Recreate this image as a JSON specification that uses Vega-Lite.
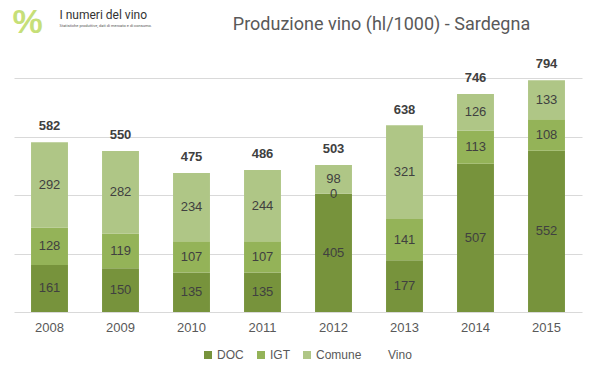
{
  "$schema": "https://vega.github.io/schema/vega-lite/v6.json",
  "width": 568,
  "height": 263,
  "autosize": {"type": "none"},
  "padding": {"left": 14, "top": 49, "right": 17, "bottom": 66},
  "background": "white",
  "config": {"view": {"stroke": null}, "font": "Liberation Sans"},
  "datasets": {
    "bars": [
      {"year": "2008", "type": "DOC", "k": 1, "value": 161},
      {"year": "2008", "type": "IGT", "k": 2, "value": 128},
      {"year": "2008", "type": "Comune", "k": 3, "value": 292},
      {"year": "2009", "type": "DOC", "k": 1, "value": 150},
      {"year": "2009", "type": "IGT", "k": 2, "value": 119},
      {"year": "2009", "type": "Comune", "k": 3, "value": 282},
      {"year": "2010", "type": "DOC", "k": 1, "value": 135},
      {"year": "2010", "type": "IGT", "k": 2, "value": 107},
      {"year": "2010", "type": "Comune", "k": 3, "value": 234},
      {"year": "2011", "type": "DOC", "k": 1, "value": 135},
      {"year": "2011", "type": "IGT", "k": 2, "value": 107},
      {"year": "2011", "type": "Comune", "k": 3, "value": 244},
      {"year": "2012", "type": "DOC", "k": 1, "value": 405},
      {"year": "2012", "type": "IGT", "k": 2, "value": 0},
      {"year": "2012", "type": "Comune", "k": 3, "value": 98},
      {"year": "2013", "type": "DOC", "k": 1, "value": 177},
      {"year": "2013", "type": "IGT", "k": 2, "value": 141},
      {"year": "2013", "type": "Comune", "k": 3, "value": 321},
      {"year": "2014", "type": "DOC", "k": 1, "value": 507},
      {"year": "2014", "type": "IGT", "k": 2, "value": 113},
      {"year": "2014", "type": "Comune", "k": 3, "value": 126},
      {"year": "2015", "type": "DOC", "k": 1, "value": 552},
      {"year": "2015", "type": "IGT", "k": 2, "value": 108},
      {"year": "2015", "type": "Comune", "k": 3, "value": 133}
    ],
    "totals": [
      {"year": "2008", "type": "Vino", "total": 582},
      {"year": "2009", "type": "Vino", "total": 550},
      {"year": "2010", "type": "Vino", "total": 475},
      {"year": "2011", "type": "Vino", "total": 486},
      {"year": "2012", "type": "Vino", "total": 503},
      {"year": "2013", "type": "Vino", "total": 638},
      {"year": "2014", "type": "Vino", "total": 746},
      {"year": "2015", "type": "Vino", "total": 794}
    ],
    "logo": [{"name": "I numeri del vino", "title": "Produzione vino (hl/1000) - Sardegna"}]
  },
  "encoding": {
    "x": {
      "field": "year",
      "type": "nominal",
      "scale": {"paddingInner": 0.48, "paddingOuter": 0.24},
      "axis": {
        "title": null,
        "labelAngle": 0,
        "labelFontSize": 13,
        "labelColor": "#595959",
        "labelPadding": 9,
        "ticks": false,
        "domain": false
      }
    }
  },
  "layer": [
    {
      "data": {"name": "bars"},
      "mark": {"type": "bar"},
      "encoding": {
        "y": {
          "field": "value",
          "type": "quantitative",
          "stack": "zero",
          "scale": {"domain": [0, 900], "nice": false},
          "axis": {
            "title": null,
            "labels": false,
            "ticks": false,
            "domain": false,
            "grid": true,
            "gridColor": "#d9d9d9",
            "values": [0, 100, 200, 300, 400, 500, 600, 700, 800, 900]
          }
        },
        "color": {
          "field": "type",
          "type": "nominal",
          "scale": {
            "domain": ["DOC", "IGT", "Comune", "Vino"],
            "range": ["#77933c", "#94b358", "#afc686", "rgba(0,0,0,0)"]
          },
          "legend": {
            "title": null,
            "orient": "none",
            "legendX": 188,
            "legendY": 300,
            "direction": "horizontal",
            "symbolType": "square",
            "symbolSize": 64,
            "symbolStrokeWidth": 0,
            "labelFontSize": 12,
            "labelColor": "#595959",
            "columnPadding": 11,
            "labelOffset": 3
          }
        },
        "order": {"field": "k", "type": "quantitative"}
      }
    },
    {
      "data": {"name": "bars"},
      "transform": [
        {"stack": "value", "groupby": ["year"], "sort": [{"field": "k"}], "as": ["v0", "v1"]},
        {"calculate": "(datum.v0 + datum.v1) / 2", "as": "mid"}
      ],
      "mark": {"type": "text", "fontSize": 13, "color": "#404040", "baseline": "middle"},
      "encoding": {
        "y": {"field": "mid", "type": "quantitative"},
        "text": {"field": "value", "type": "quantitative"}
      }
    },
    {
      "data": {"name": "totals"},
      "mark": {"type": "text", "fontSize": 13, "fontWeight": "bold", "color": "#404040", "baseline": "alphabetic", "dy": -12},
      "encoding": {
        "y": {"field": "total", "type": "quantitative"},
        "text": {"field": "total", "type": "quantitative"}
      }
    },
    {
      "data": {"name": "logo"},
      "mark": {"type": "text", "fontSize": 18, "color": "#595959", "align": "center", "baseline": "middle", "dx": -23, "font": "Roboto", "clip": false},
      "encoding": {
        "x": {"datum": "2013"},
        "y": {"datum": 982},
        "text": {"field": "title"}
      }
    },
    {
      "data": {"name": "logo"},
      "mark": {"type": "text", "fontSize": 12, "color": "#333333", "align": "left", "baseline": "middle", "dx": 10, "font": "Roboto", "clip": false},
      "encoding": {
        "x": {"datum": "2008"},
        "y": {"datum": 1017},
        "text": {"field": "name"}
      }
    },
    {
      "data": {"name": "logo"},
      "mark": {"type": "text", "fontSize": 4, "font": "Roboto", "color": "#555555", "align": "left", "baseline": "middle", "dx": 10, "clip": false, "text": "Statistiche produttive, dati di mercato e di consumo."},
      "encoding": {
        "x": {"datum": "2008"},
        "y": {"datum": 979}
      }
    },
    {
      "data": {"name": "logo"},
      "mark": {"type": "text", "fontSize": 34, "fontWeight": "bold", "color": "#c6df78", "align": "center", "baseline": "middle", "dx": -22, "clip": false, "text": "%"},
      "encoding": {
        "x": {"datum": "2008"},
        "y": {"datum": 988}
      }
    }
  ]
}
